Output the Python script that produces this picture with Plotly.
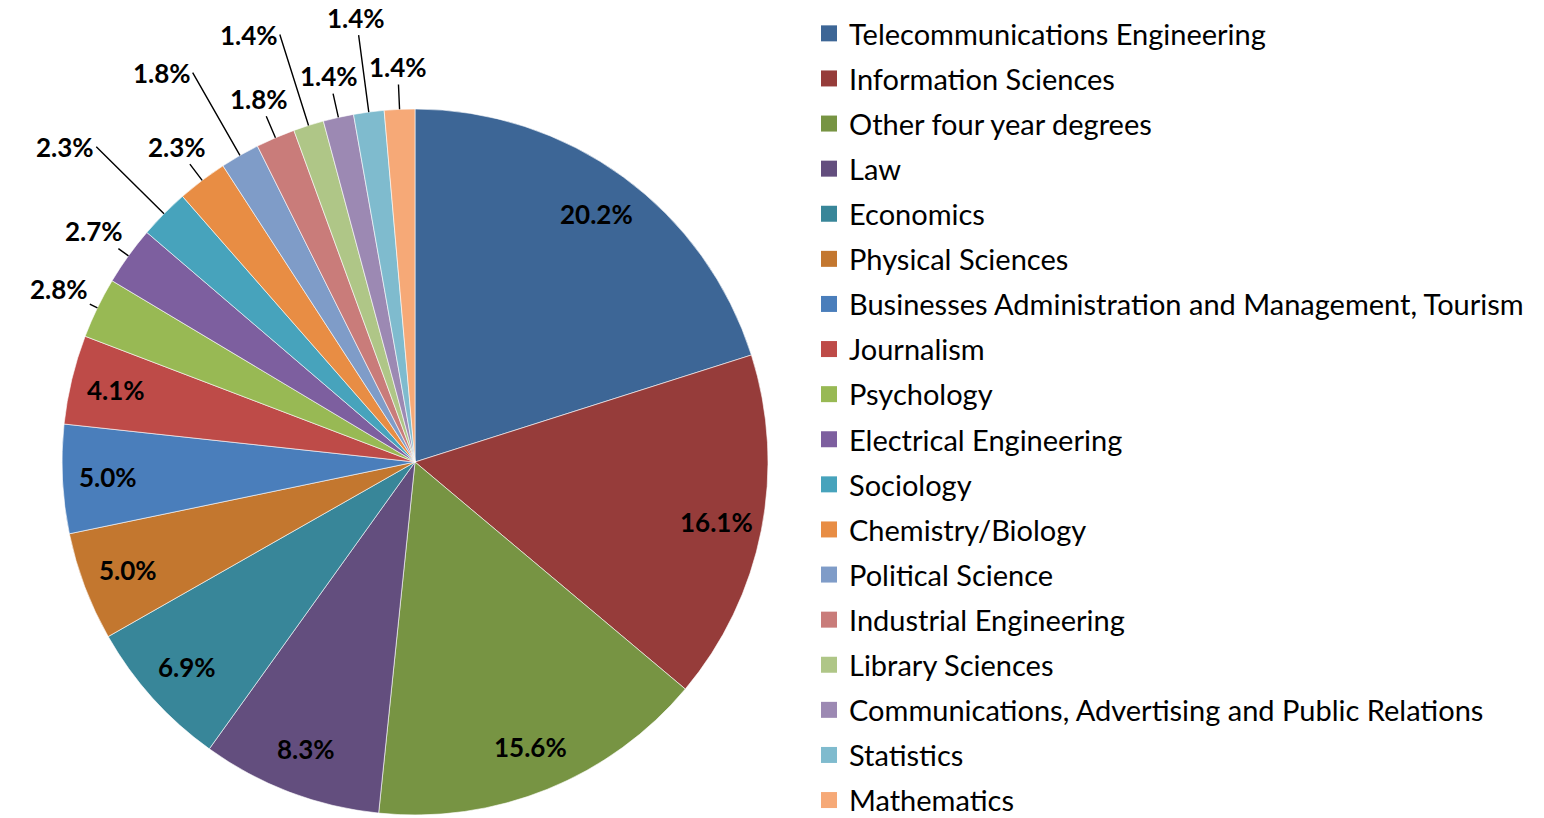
import math
import plotly.graph_objects as go

W, H = 1544, 818

categories = [
    "Telecommunications Engineering",
    "Information Sciences",
    "Other four year degrees",
    "Law",
    "Economics",
    "Physical Sciences",
    "Businesses Administration and Management, Tourism",
    "Journalism",
    "Psychology",
    "Electrical Engineering",
    "Sociology",
    "Chemistry/Biology",
    "Political Science",
    "Industrial Engineering",
    "Library Sciences",
    "Communications, Advertising and Public Relations",
    "Statistics",
    "Mathematics",
]
values = [20.2, 16.1, 15.6, 8.3, 6.9, 5.0, 5.0, 4.1, 2.8, 2.7, 2.3, 2.3, 1.8, 1.8, 1.4, 1.4, 1.4, 1.4]
colors = [
    "#3D6696", "#963C3A", "#779443", "#634E7E", "#388699", "#C3772F",
    "#4A7EBB", "#BE4B48", "#98B954", "#7D5F9F", "#47A3BC", "#E88D44",
    "#7F9CC8", "#C97C7A", "#AFC687", "#9C89B3", "#7FBBCE", "#F6A977",
]

# pie geometry (pixels, margins are zero)
DOM_X = (0, 830)
DOM_Y = (3, 709)          # from bottom
CX = (DOM_X[0] + DOM_X[1]) / 2
CY_UP = (DOM_Y[0] + DOM_Y[1]) / 2
R = min(DOM_X[1] - DOM_X[0], DOM_Y[1] - DOM_Y[0]) / 2

LABEL_FONT = dict(family="Lato", size=26, color="black", weight="bold")

fig = go.Figure()
fig.add_trace(go.Pie(
    labels=categories,
    values=values,
    sort=False,
    direction="clockwise",
    rotation=0,
    marker=dict(colors=colors, line=dict(color="white", width=0.6)),
    textinfo="none",
    showlegend=False,
    domain=dict(x=[DOM_X[0] / W, DOM_X[1] / W], y=[DOM_Y[0] / H, DOM_Y[1] / H]),
    hoverinfo="label+value",
))

# data labels, placed at each slice's mid-angle (Excel "best fit" style)
total = sum(values)
cum = 0.0
annotations = []
for i, v in enumerate(values):
    theta = 2 * math.pi * (cum + v / 2) / total
    cum += v
    sx, sy = math.sin(theta), math.cos(theta)
    text = f"{v:.1f}%"
    if v >= 4:
        r = 0.87 * R
        annotations.append(dict(
            x=(CX + r * sx) / W, y=(CY_UP + r * sy) / H, xref="paper", yref="paper",
            text=text, showarrow=False, font=LABEL_FONT,
            xanchor="center", yanchor="middle",
        ))
    else:
        order_from_end = len(values) - 1 - i
        far = v < 2.5 and order_from_end % 2 == 1
        k = 1.27 if far else 1.12
        if far and abs(sx) >= 0.25:
            xanchor = "right" if sx < 0 else "left"
        else:
            xanchor = "center"
        ex, ey = CX + R * sx, CY_UP + R * sy
        annotations.append(dict(
            x=ex / W, y=ey / H, xref="paper", yref="paper",
            ax=(k - 1) * R * sx, ay=-(k - 1) * R * sy, axref="pixel", ayref="pixel",
            text=text, showarrow=True, arrowhead=0, arrowwidth=1.4,
            arrowcolor="black", standoff=0, startstandoff=0,
            font=LABEL_FONT, xanchor=xanchor, yanchor="middle",
        ))

# legend entries (square swatches)
for name, col in zip(categories, colors):
    fig.add_trace(go.Scatter(
        x=[None], y=[None], mode="markers", name=name, legendgroup=name,
        marker=dict(symbol="square", size=16, color=col),
        showlegend=True,
    ))

fig.update_layout(
    width=W, height=H,
    margin=dict(l=0, r=0, t=0, b=0, autoexpand=False),
    paper_bgcolor="white", plot_bgcolor="white",
    xaxis=dict(visible=False), yaxis=dict(visible=False),
    annotations=annotations,
    legend=dict(
        x=809 / W, y=1 - 8 / H, xanchor="left", yanchor="top",
        font=dict(family="Lato", size=29, color="black"),
        tracegroupgap=4.4,
        bgcolor="rgba(0,0,0,0)", borderwidth=0,
    ),
)

fig.write_html("out.html")
